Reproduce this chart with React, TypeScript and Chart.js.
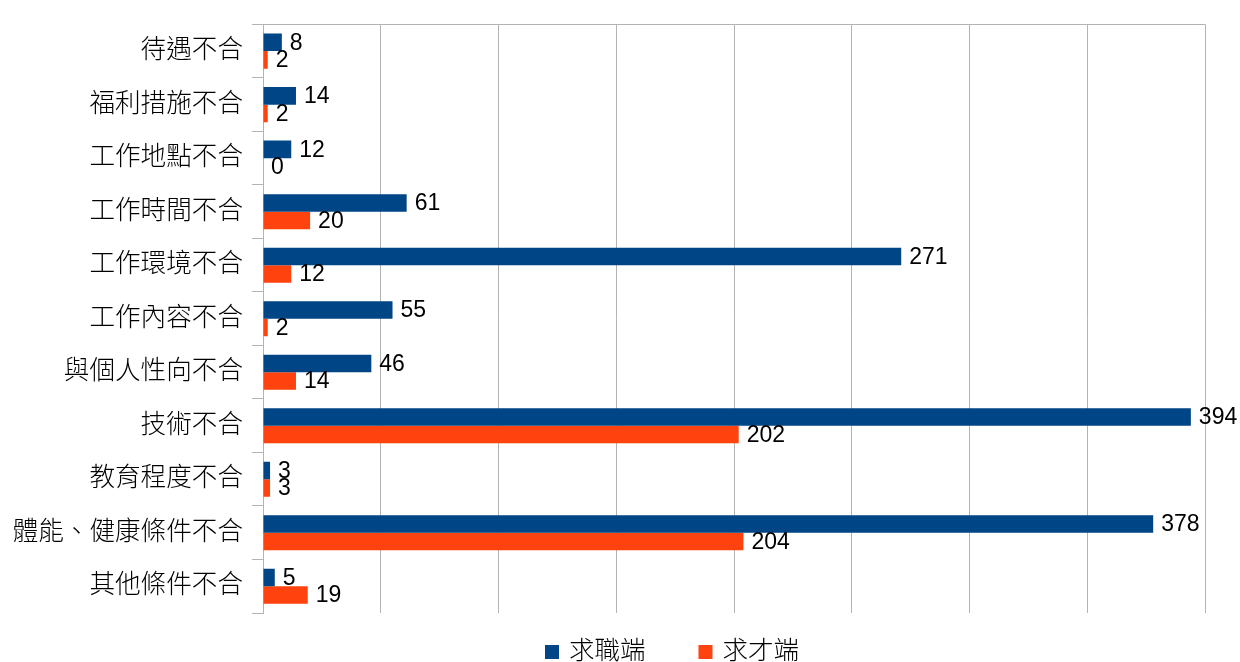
import React, { useEffect, useRef } from "react";
import { Chart, registerables } from "chart.js";

Chart.register(...registerables);

const categories = [
  "待遇不合",
  "福利措施不合",
  "工作地點不合",
  "工作時間不合",
  "工作環境不合",
  "工作內容不合",
  "與個人性向不合",
  "技術不合",
  "教育程度不合",
  "體能、健康條件不合",
  "其他條件不合",
];
const seekerValues = [8, 14, 12, 61, 271, 55, 46, 394, 3, 378, 5];
const employerValues = [2, 2, 0, 20, 12, 2, 14, 202, 3, 204, 19];
const seriesNames = ["求職端", "求才端"];
const seriesColors = ["#004586", "#ff420e"];

const GRID = "#b3b3b3";
const CJK = "'Liberation Sans', 'Noto Sans CJK TC', sans-serif";

const valueLabels = {
  id: "valueLabels",
  afterDatasetsDraw(chart: any) {
    const ctx = chart.ctx;
    ctx.save();
    ctx.font = "23px 'Liberation Sans', sans-serif";
    ctx.fillStyle = "#000";
    ctx.textAlign = "left";
    ctx.textBaseline = "middle";
    chart.data.datasets.forEach((ds: any, di: number) => {
      const meta = chart.getDatasetMeta(di);
      meta.data.forEach((el: any, i: number) => {
        ctx.fillText(String(ds.data[i]), el.x + 8, el.y + 1);
      });
    });
    ctx.restore();
  },
};

const bottomLegend = {
  id: "bottomLegend",
  afterDraw(chart: any) {
    const ctx = chart.ctx;
    ctx.save();
    ctx.font = "300 25.5px " + CJK;
    ctx.textBaseline = "middle";
    ctx.textAlign = "left";
    let x = 545;
    const y = 652;
    chart.data.datasets.forEach((ds: any) => {
      ctx.fillStyle = ds.backgroundColor;
      ctx.fillRect(x, y - 7, 14, 14);
      ctx.fillStyle = "#000";
      ctx.fillText(ds.label, x + 24, y);
      x += 24 + ctx.measureText(ds.label).width + 53;
    });
    ctx.restore();
  },
};

export default function App() {
  const ref = useRef<HTMLCanvasElement>(null);
  useEffect(() => {
    document.body.style.margin = "0";
    const chart = new Chart(ref.current!, {
      type: "bar",
      data: {
        labels: categories,
        datasets: [
          {
            label: seriesNames[0],
            data: seekerValues,
            backgroundColor: seriesColors[0],
            categoryPercentage: 0.655,
            barPercentage: 1,
          },
          {
            label: seriesNames[1],
            data: employerValues,
            backgroundColor: seriesColors[1],
            categoryPercentage: 0.655,
            barPercentage: 1,
          },
        ],
      },
      options: {
        indexAxis: "y",
        responsive: false,
        animation: false,
        devicePixelRatio: 1,
        layout: { padding: { top: 24, right: 35, bottom: 49, left: 0 } },
        plugins: {
          legend: { display: false },
          tooltip: { enabled: false },
        },
        scales: {
          x: {
            min: 0,
            max: 400,
            ticks: { display: false, stepSize: 50 },
            grid: { color: GRID, drawTicks: false, lineWidth: 1 },
            border: { display: false },
          },
          y: {
            grid: {
              offset: true,
              color: (c: any) =>
                c.index === 0 || c.index === categories.length ? GRID : "rgba(0,0,0,0)",
              tickColor: GRID,
              tickLength: 11,
            },
            border: { color: GRID },
            ticks: {
              color: "#000",
              padding: 9,
              font: { size: 25.6, family: CJK, weight: 300 },
            },
            afterFit: (scale: any) => {
              scale.width = 263;
            },
          },
        },
      },
      plugins: [valueLabels, bottomLegend],
    });
    return () => chart.destroy();
  }, []);
  return (
    <div style={{ position: "absolute", left: 0, top: 0 }}>
      <canvas ref={ref} width={1240} height={662} style={{ display: "block" }} />
    </div>
  );
}
